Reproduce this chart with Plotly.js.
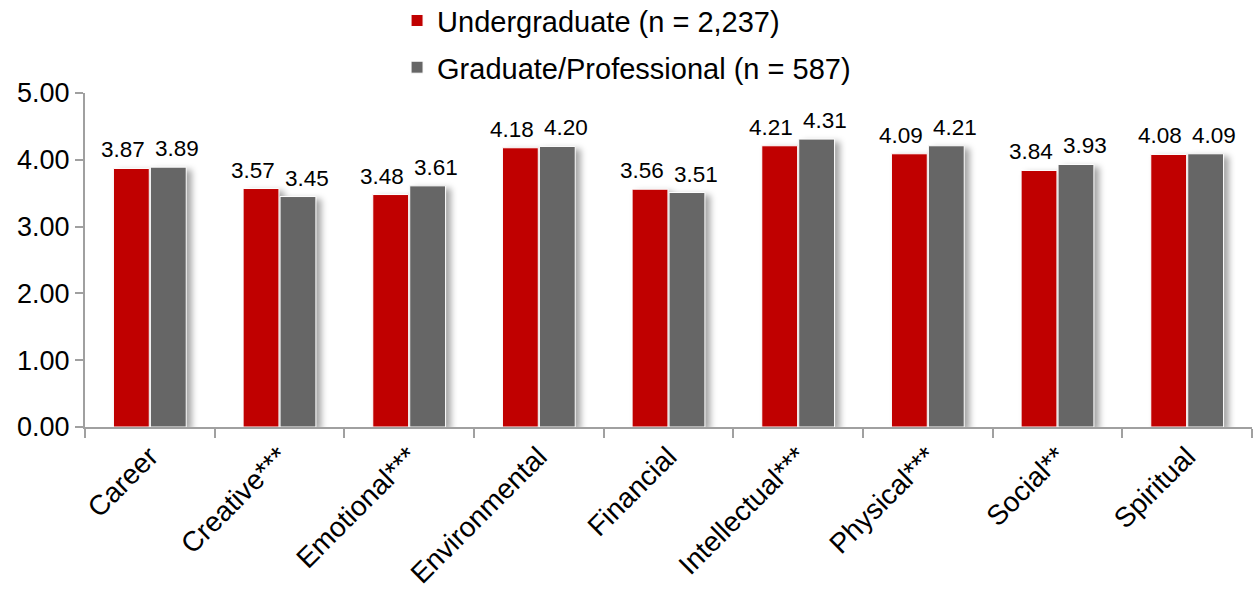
<!DOCTYPE html>
<html>
<head>
<meta charset="utf-8">
<script src="https://cdn.plot.ly/plotly-3.0.1.min.js"></script>
<style>
html,body{margin:0;padding:0;background:#fff;}
#chart{width:1256px;height:597px;}
#chart .bars .point path{filter: drop-shadow(5px 3px 3px rgba(0,0,0,0.35));}
</style>
</head>
<body>
<div id="chart"></div>
<script>
const categories = ["Career","Creative***","Emotional***","Environmental","Financial","Intellectual***","Physical***","Social**","Spiritual"];
const undergrad = [3.87,3.57,3.48,4.18,3.56,4.21,4.09,3.84,4.08];
const graduate = [3.89,3.45,3.61,4.20,3.51,4.31,4.21,3.93,4.09];
const seriesNames = ["Undergraduate (n = 2,237)","Graduate/Professional (n = 587)"];
const yTicks = [0,1,2,3,4,5];

const font = "Liberation Sans, Arial, sans-serif";
const colors = ["#C00000", "#666666"];
function mk(vals, name, color, group) {
  return {
    type: "bar", x: categories, y: vals, name: name, legendgroup: group,
    marker: {color: color, line: {color: "#ffffff", width: 1}},
    hoverinfo: "skip"
  };
}
const data = [
  mk(undergrad, seriesNames[0], colors[0], "a"),
  mk(graduate, seriesNames[1], colors[1], "b")
];
const annotations = [];
[[undergrad, -27], [graduate, 27]].forEach(([vals, sh]) => {
  vals.forEach((v, i) => annotations.push({
    x: categories[i], y: v, xref: "x", yref: "y",
    text: v.toFixed(2), showarrow: false, xanchor: "center", yanchor: "bottom",
    xshift: sh, yshift: 4, font: {family: font, size: 22.5, color: "#000"}
  }));
});
const layout = {
  width: 1256, height: 597,
  margin: {l: 85, r: 4, t: 93, b: 170, autoexpand: false},
  paper_bgcolor: "#fff", plot_bgcolor: "#fff",
  barmode: "group", bargap: 0.43, bargroupgap: 0.03,
  font: {family: font, color: "#000"},
  showlegend: true,
  annotations: annotations,
  legend: {
    x: 0.2674, y: 1.293, xanchor: "left", yanchor: "top",
    orientation: "v", traceorder: "grouped", tracegroupgap: 6,
    font: {family: font, size: 29, color: "#000"}, bgcolor: "rgba(0,0,0,0)"
  },
  xaxis: {
    type: "category", showline: true, linecolor: "#a0a0a0", linewidth: 2,
    ticks: "outside", tickson: "boundaries", ticklen: 9, tickcolor: "#a0a0a0", tickwidth: 2,
    tickangle: -45, tickfont: {family: font, size: 28, color: "#000"},
    showgrid: false, zeroline: false, fixedrange: true
  },
  yaxis: {
    range: [0, 5], tickvals: yTicks, ticktext: yTicks.map(v => v.toFixed(2)),
    showline: true, linecolor: "#a0a0a0", linewidth: 2,
    ticks: "outside", ticklen: 8, tickcolor: "#a0a0a0", tickwidth: 2,
    tickfont: {family: font, size: 27, color: "#000"},
    showgrid: false, zeroline: false, fixedrange: true
  }
};
Plotly.newPlot("chart", data, layout, {displayModeBar: false, staticPlot: true});
</script>
</body>
</html>
